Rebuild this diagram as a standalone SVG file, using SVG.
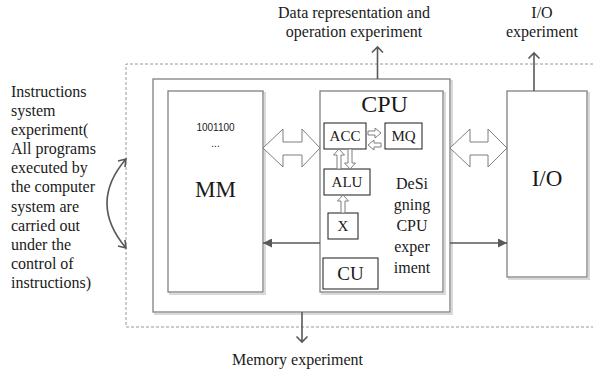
<svg xmlns="http://www.w3.org/2000/svg" width="593" height="372" viewBox="0 0 593 372">
<style>
.t{font-family:"Liberation Serif","Times New Roman",serif;fill:#1a1a1a}
.s{font-family:"Liberation Sans",Arial,sans-serif;fill:#1a1a1a}
.big{fill:#fff;stroke:#808080;stroke-width:1.3}
.sh{fill:none;stroke:#d9d9d9;stroke-width:2}
.sm{fill:#fff;stroke:#1a1a1a;stroke-width:1}
.ln{fill:none;stroke:#595959;stroke-width:1.6}
.ha{fill:#fff;stroke:#7f7f7f;stroke-width:1}
.da{fill:none;stroke:#7f7f7f;stroke-width:0.8;stroke-dasharray:3,2}
</style>
<defs>
<marker id="open" viewBox="0 0 10 10" refX="5" refY="2" markerWidth="10" markerHeight="10" markerUnits="userSpaceOnUse" orient="auto-start-reverse">
<path d="M0,0 L5,0" fill="none"/>
</marker>
<marker id="fill" viewBox="0 0 10 10" refX="10" refY="5" markerWidth="10" markerHeight="9" markerUnits="userSpaceOnUse" orient="auto">
<path d="M0,0 L10,5 L0,10 Z" fill="#595959"/>
</marker>
</defs>
<!-- dashed boundary -->
<path class="da" d="M593,64 L126,64 L126,327 L593,327"/>
<!-- computer box -->
<g id="computer">
<rect class="sh" x="155" y="81" width="297" height="233"/>
<rect class="big" x="153" y="79" width="297" height="233"/>
</g>
<g id="MM">
<rect class="sh" x="170" y="93" width="95" height="201"/>
<rect class="big" x="168" y="91" width="95" height="201"/>
<text class="s" x="215.5" y="131" font-size="10" text-anchor="middle">1001100</text>
<text class="s" x="215.5" y="147" font-size="10" text-anchor="middle">...</text>
<text class="t" x="215.5" y="197" font-size="23" text-anchor="middle">MM</text>
</g>
<g id="CPU">
<rect class="sh" x="322" y="93" width="123" height="201"/>
<rect class="big" x="320" y="91" width="123" height="201"/>
<text class="t" x="384.5" y="112" font-size="24" text-anchor="middle">CPU</text>
<text class="t" x="412" y="189" font-size="16" text-anchor="middle">DeSi</text>
<text class="t" x="412" y="210" font-size="16" text-anchor="middle">gning</text>
<text class="t" x="412" y="231" font-size="16" text-anchor="middle">CPU</text>
<text class="t" x="412" y="252" font-size="16" text-anchor="middle">exper</text>
<text class="t" x="412" y="273" font-size="16" text-anchor="middle">iment</text>
</g>
<g id="ACC">
<rect class="sm" x="324" y="123" width="42" height="26"/>
<text class="t" x="345" y="141" font-size="15" text-anchor="middle">ACC</text>
</g>
<g id="MQ">
<rect class="sm" x="385" y="123" width="37" height="26"/>
<text class="t" x="403.5" y="141" font-size="15" text-anchor="middle">MQ</text>
</g>
<g id="ALU">
<rect class="sm" x="324" y="169" width="46" height="26"/>
<text class="t" x="347" y="187" font-size="15" text-anchor="middle">ALU</text>
</g>
<g id="X">
<rect class="sm" x="328" y="213" width="30" height="26"/>
<text class="t" x="343" y="231" font-size="15" text-anchor="middle">X</text>
</g>
<g id="CU">
<rect class="sm" x="323" y="258" width="55" height="31"/>
<text class="t" x="350.5" y="280" font-size="19" text-anchor="middle">CU</text>
</g>
<g id="IO">
<rect class="sh" x="509" y="93" width="80" height="186"/>
<rect class="big" x="507" y="91" width="80" height="186"/>
<text class="t" x="547" y="186" font-size="23" text-anchor="middle">I/O</text>
</g>
<g id="connectors">
<path class="ha" d="M263,148 L283,129 L283,142 L302,142 L302,129 L320,148 L302,167 L302,155 L283,155 L283,167 Z"/>
<path class="ha" d="M450,148 L470,129 L470,142 L488,142 L488,129 L507,148 L488,167 L488,155 L470,155 L470,167 Z"/>
<path class="ha" d="M339,149 L344.5,155 L341,155 L341,169 L337,169 L337,155 L333.5,155 Z"/>
<path class="ha" d="M350,169 L355.5,163 L352,163 L352,149 L348,149 L348,163 L344.5,163 Z"/>
<path class="ha" d="M343,195 L348.5,201 L345,201 L345,213 L341,213 L341,201 L337.5,201 Z"/>
<path class="ha" d="M381,133 L375,128 L375,131 L368,131 L368,135 L375,135 L375,138 Z"/>
<path class="ha" d="M368,145 L374,140 L374,143 L381,143 L381,147 L374,147 L374,150 Z"/>
<line class="ln" x1="320" y1="243" x2="263" y2="243" marker-end="url(#fill)"/>
<line class="ln" x1="450" y1="243" x2="507" y2="243" marker-end="url(#fill)"/>
<path class="ln" d="M377.5,79 L377.5,47 M372,52.5 L377.5,47 L383,52.5"/>
<path class="ln" d="M534,91 L534,53 M528.5,58.5 L534,53 L539.5,58.5"/>
<path class="ln" d="M302,312 L302,342 M296.5,336.5 L302,342 L307.5,336.5"/>
<path class="ln" d="M126,159 Q88,203 126,248 M118,161 L126,159 L125,167 M118,246 L126,248 L125,240"/>
</g>
<text class="t" x="354" y="18" font-size="16" text-anchor="middle">Data representation and</text>
<text class="t" x="354" y="37" font-size="16" text-anchor="middle">operation experiment</text>
<text class="t" x="542" y="18" font-size="16" text-anchor="middle">I/O</text>
<text class="t" x="542" y="37" font-size="16" text-anchor="middle">experiment</text>
<text class="t" x="297.5" y="365" font-size="16" text-anchor="middle">Memory experiment</text>
<g class="t" font-size="16">
<text x="11" y="97">Instructions</text>
<text x="11" y="116">system</text>
<text x="11" y="135">experiment(</text>
<text x="11" y="154">All programs</text>
<text x="11" y="173">executed by</text>
<text x="11" y="192">the computer</text>
<text x="11" y="212">system are</text>
<text x="11" y="231">carried out</text>
<text x="11" y="250">under the</text>
<text x="11" y="269">control of</text>
<text x="11" y="288">instructions)</text>
</g>
</svg>
